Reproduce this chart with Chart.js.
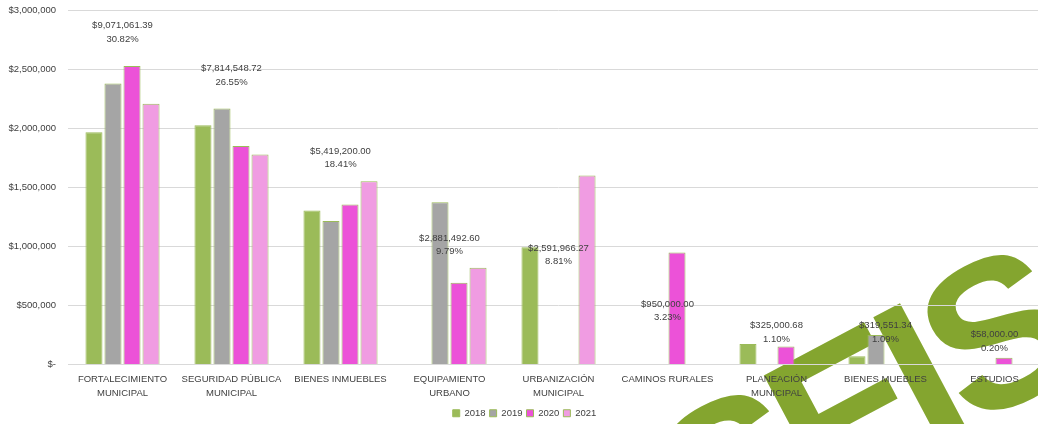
<!DOCTYPE html>
<html>
<head>
<meta charset="utf-8">
<script src="https://cdn.jsdelivr.net/npm/chart.js@4.4.1/dist/chart.umd.min.js"></script>
<style>
  html, body { margin: 0; padding: 0; background: #fff; overflow: hidden; }
  #clip { width: 1038px; height: 424px; overflow: hidden; }
  #wrap { width: 1049px; height: 431px; margin-top: -7px; position: relative; }
</style>
</head>
<body>
<div id="clip"><div id="wrap"><canvas id="chart"></canvas></div></div>
<script>
const categories = [
    ['FORTALECIMIENTO', 'MUNICIPAL'],
    ['SEGURIDAD PÚBLICA', 'MUNICIPAL'],
    'BIENES INMUEBLES',
    ['EQUIPAMIENTO', 'URBANO'],
    ['URBANIZACIÓN', 'MUNICIPAL'],
    'CAMINOS RURALES',
    ['PLANEACIÓN', 'MUNICIPAL'],
    'BIENES MUEBLES',
    'ESTUDIOS'
];
const years = ['2018', '2019', '2020', '2021'];

// amounts (null = no bar)
const values2018 = [1970000, 2028000, 1305000, null, 995000, null, 174000, 69000, null];
const values2019 = [2382000, 2170000, 1217000, 1376000, null, null, null, 251000, null];
const values2020 = [2532000, 1852000, 1356000, 693000, null, 950000, 152000, null, 58000];
const values2021 = [2212000, 1780000, 1553000, 820000, 1603000, null, null, null, null];

// group totals and share labels printed above each group
const totals = [9071061.39, 7814548.72, 5419200.00, 2881492.60, 2591966.27, 950000.00, 325000.68, 319551.34, 58000.00];
const shares = ['30.82%', '26.55%', '18.41%', '9.79%', '8.81%', '3.23%', '1.10%', '1.09%', '0.20%'];

const yMax = 3000000;
const yStep = 500000;

const colors = ['#9bbb59', '#a5a5a5', '#ec52d8', '#f09ce2'];
const FONT = '"Liberation Sans", Arial, sans-serif';
const TEXT = '#404040';
const FSIZE = 9.5;

// green "SEIS" logo behind the plot, letters placed one by one
const watermarkPlugin = {
    id: 'watermark',
    beforeDraw(chart) {
        const ctx = chart.ctx;
        ctx.save();
        ctx.translate(873, 324);
        ctx.rotate(-28 * Math.PI / 180);
        ctx.font = 'bold 210px ' + FONT;
        ctx.fillStyle = '#84a52f';
        ctx.textBaseline = 'alphabetic';
        ctx.textAlign = 'left';
        const base = ctx.measureText('E').actualBoundingBoxAscent;
        const mS = ctx.measureText('S');
        const wS = mS.actualBoundingBoxRight + mS.actualBoundingBoxLeft;
        const put = (ch, inkLeft) => {
            const m = ctx.measureText(ch);
            ctx.fillText(ch, inkLeft + m.actualBoundingBoxLeft, base);
        };
        put('S', -132 - wS);
        put('E', -124);
        put('I', 0);
        put('S', 40);
        ctx.restore();
    }
};

const totalLabelsPlugin = {
    id: 'totalLabels',
    afterDatasetsDraw(chart) {
        const meta = chart.getDatasetMeta(4);
        const ctx = chart.ctx;
        ctx.save();
        ctx.font = FSIZE + 'px ' + FONT;
        ctx.fillStyle = TEXT;
        ctx.textAlign = 'center';
        ctx.textBaseline = 'middle';
        meta.data.forEach((pt, i) => {
            const money = '$' + totals[i].toLocaleString('en-US', {minimumFractionDigits: 2, maximumFractionDigits: 2});
            ctx.fillText(money, pt.x, pt.y - 27.7);
            ctx.fillText(shares[i], pt.x, pt.y - 14.3);
        });
        ctx.restore();
    }
};

function barSet(label, data, color) {
    return {
        type: 'bar',
        label: label,
        data: data,
        backgroundColor: color,
        borderColor: '#9bbb59',
        borderWidth: 1,
        categoryPercentage: 0.698,
        barPercentage: 0.895,
        yAxisID: 'y'
    };
}

const ctx = document.getElementById('chart').getContext('2d');
new Chart(ctx, {
    data: {
        labels: categories,
        datasets: [
            barSet(years[0], values2018, colors[0]),
            barSet(years[1], values2019, colors[1]),
            barSet(years[2], values2020, colors[2]),
            barSet(years[3], values2021, colors[3]),
            {
                type: 'line',
                label: 'Total',
                data: totals,
                showLine: false,
                pointRadius: 0,
                pointHoverRadius: 0,
                yAxisID: 'y2'
            }
        ]
    },
    plugins: [watermarkPlugin, totalLabelsPlugin],
    options: {
        responsive: true,
        maintainAspectRatio: false,
        animation: false,
        layout: {
            padding: { top: 2, right: 0, left: 0, bottom: -4 }
        },
        plugins: {
            tooltip: { enabled: false },
            legend: {
                position: 'bottom',
                labels: {
                    boxWidth: 7,
                    boxHeight: 7,
                    padding: 4,
                    color: TEXT,
                    font: { family: FONT, size: FSIZE },
                    filter: item => item.datasetIndex < 4
                }
            }
        },
        scales: {
            x: {
                afterFit: scale => { scale.height = 40; },
                grid: { display: false, drawTicks: false },
                border: { display: true, color: '#d9d9d9' },
                ticks: {
                    autoSkip: false,
                    maxRotation: 0,
                    padding: 8,
                    color: TEXT,
                    font: { family: FONT, size: FSIZE, lineHeight: 1.45 }
                }
            },
            y: {
                min: 0,
                max: yMax,
                afterFit: scale => { scale.width = 68; },
                grid: { color: '#d9d9d9', drawTicks: false },
                border: { display: false },
                ticks: {
                    stepSize: yStep,
                    padding: 12,
                    color: TEXT,
                    font: { family: FONT, size: FSIZE },
                    callback: v => v === 0 ? '$-' : '$' + v.toLocaleString('en-US')
                }
            },
            y2: {
                display: false,
                min: 0,
                max: 10315000
            }
        }
    }
});
</script>
</body>
</html>
